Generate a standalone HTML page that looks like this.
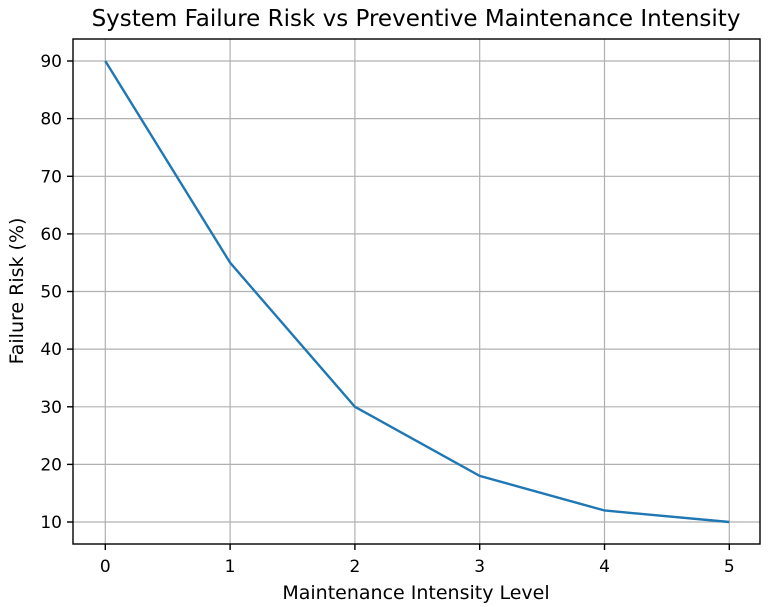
<!DOCTYPE html>
<html><head><style>body{margin:0;background:#fff}svg{display:block}text{font-family:"DejaVu Sans","Liberation Sans",sans-serif;fill:#000}</style></head>
<body>
<svg width="768" height="607" viewBox="0 0 768 607">
<rect width="768" height="607" fill="#fff"/>
<g stroke="#b0b0b0" stroke-width="1.2">
<line x1="105.3" y1="39" x2="105.3" y2="544"/>
<line x1="230.1" y1="39" x2="230.1" y2="544"/>
<line x1="354.9" y1="39" x2="354.9" y2="544"/>
<line x1="479.7" y1="39" x2="479.7" y2="544"/>
<line x1="604.5" y1="39" x2="604.5" y2="544"/>
<line x1="729.3" y1="39" x2="729.3" y2="544"/>
<line x1="73" y1="522" x2="760" y2="522"/>
<line x1="73" y1="464.4" x2="760" y2="464.4"/>
<line x1="73" y1="406.8" x2="760" y2="406.8"/>
<line x1="73" y1="349.1" x2="760" y2="349.1"/>
<line x1="73" y1="291.5" x2="760" y2="291.5"/>
<line x1="73" y1="233.9" x2="760" y2="233.9"/>
<line x1="73" y1="176.3" x2="760" y2="176.3"/>
<line x1="73" y1="118.6" x2="760" y2="118.6"/>
<line x1="73" y1="61" x2="760" y2="61"/>
</g>
<polyline fill="none" stroke="#1f77b4" stroke-width="2.4" points="105.3,61 230.1,262.7 354.9,406.8 479.7,475.9 604.5,510.5 729.3,522"/>
<rect x="73" y="39" width="687" height="505" fill="none" stroke="#000" stroke-width="1.4"/>
<g stroke="#000" stroke-width="1.4">
<line x1="105.3" y1="544" x2="105.3" y2="550"/><line x1="230.1" y1="544" x2="230.1" y2="550"/><line x1="354.9" y1="544" x2="354.9" y2="550"/><line x1="479.7" y1="544" x2="479.7" y2="550"/><line x1="604.5" y1="544" x2="604.5" y2="550"/><line x1="729.3" y1="544" x2="729.3" y2="550"/>
<line x1="67" y1="522" x2="73" y2="522"/><line x1="67" y1="464.4" x2="73" y2="464.4"/><line x1="67" y1="406.8" x2="73" y2="406.8"/><line x1="67" y1="349.1" x2="73" y2="349.1"/><line x1="67" y1="291.5" x2="73" y2="291.5"/><line x1="67" y1="233.9" x2="73" y2="233.9"/><line x1="67" y1="176.3" x2="73" y2="176.3"/><line x1="67" y1="118.6" x2="73" y2="118.6"/><line x1="67" y1="61" x2="73" y2="61"/>
</g>
<g font-size="17" text-anchor="middle">
<text x="105.3" y="572">0</text><text x="230.1" y="572">1</text><text x="354.9" y="572">2</text><text x="479.7" y="572">3</text><text x="604.5" y="572">4</text><text x="729.3" y="572">5</text>
</g>
<g font-size="17" text-anchor="end">
<text x="62" y="528">10</text><text x="62" y="470.4">20</text><text x="62" y="412.8">30</text><text x="62" y="355.1">40</text><text x="62" y="297.5">50</text><text x="62" y="239.9">60</text><text x="62" y="182.3">70</text><text x="62" y="124.6">80</text><text x="62" y="67">90</text>
</g>
<text x="416" y="599" font-size="19" text-anchor="middle">Maintenance Intensity Level</text>
<text transform="translate(23,291) rotate(-90)" font-size="19" text-anchor="middle">Failure Risk (%)</text>
<text x="416" y="26" font-size="23" text-anchor="middle">System Failure Risk vs Preventive Maintenance Intensity</text>
</svg>
</body></html>
